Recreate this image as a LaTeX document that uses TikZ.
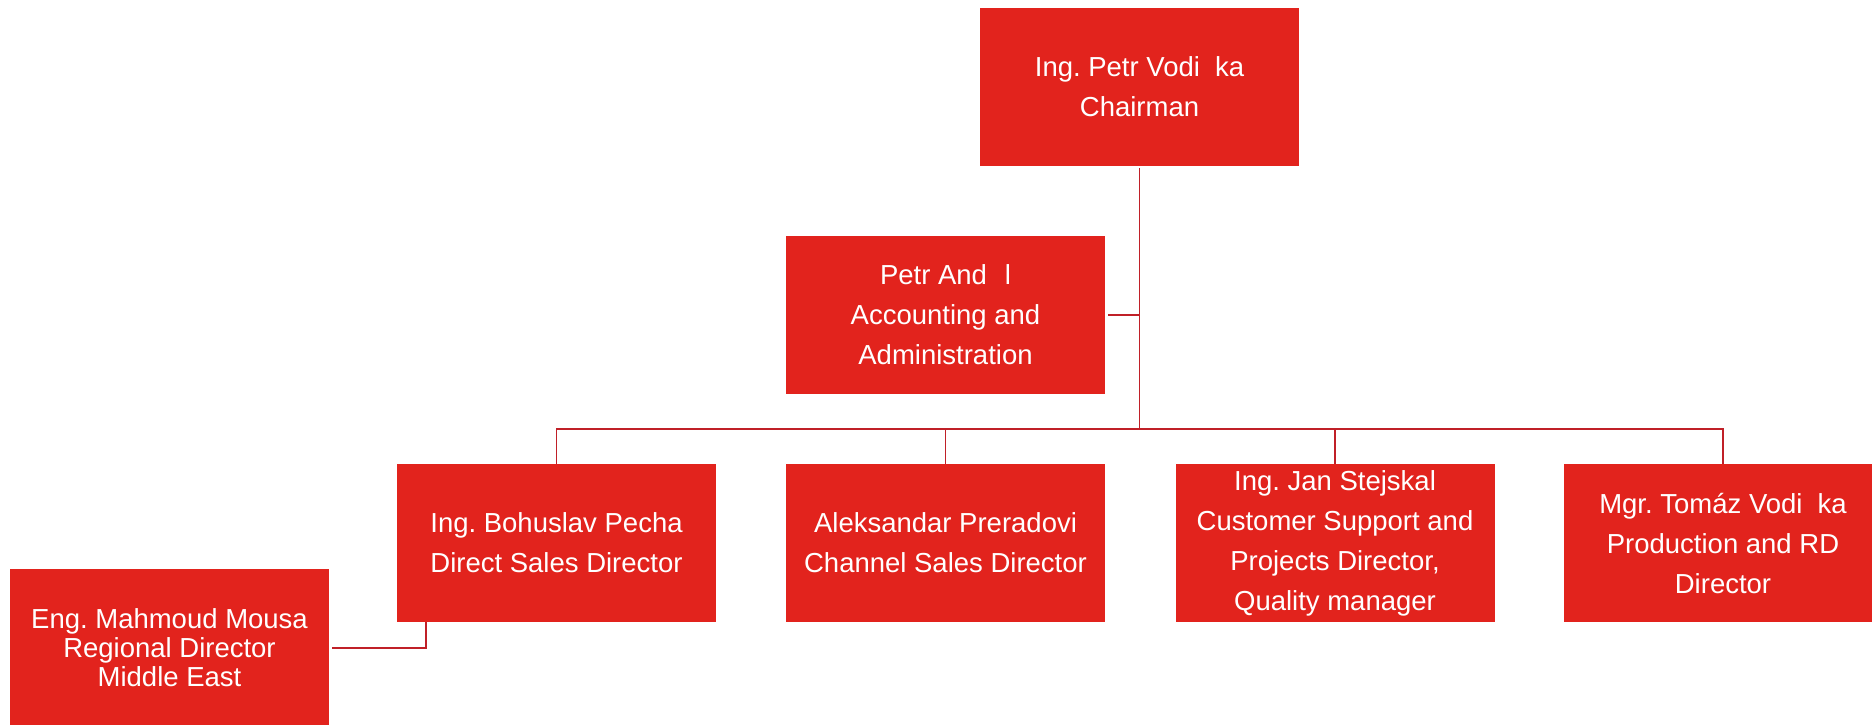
\documentclass[tikz,border=0pt]{standalone}
\usepackage{fontspec}
\setmainfont{Liberation Sans}
\usepackage{xcolor}
\definecolor{boxred}{RGB}{226,35,29}
\definecolor{linered}{RGB}{192,32,40}
\frenchspacing
\tikzset{>=latex}
\tikzset{
  person/.style={rectangle,fill=boxred,text=white,align=center,inner sep=0pt,
    minimum width=159.5pt,minimum height=79pt,font=\fontsize{13.75}{20}\selectfont},
  link/.style={draw=linered,line width=0.9pt}
}

\begin{document}
\begin{tikzpicture}[x=0.5pt,y=-0.5pt]
    \useasboundingbox (0,0) rectangle (1872,724);
    \node at (1139.5, 86.5) [person] (chair) {Ing. Petr Vodi\hspace{0.55em}ka \\ Chairman};
    \node at (945.5, 315) [person] (acct) {Petr And\hspace{0.65em}l \\ Accounting and \\ Administration};
    \node at (556.5, 543) [person] (bohus) {Ing. Bohuslav Pecha \\ Direct Sales Director};
    \node at (945.5, 543) [person] (chan) {Aleksandar Preradovi \\ Channel Sales Director};
    \node at (1335, 543) [person] (jan) {Ing. Jan Stejskal \\ Customer Support and \\ Projects Director, \\ Quality manager};
    \node at (1723, 543) [person] (mgr) {Mgr. Tomáz Vodi\hspace{0.55em}ka \\ Production and RD \\ Director};
    \node at (169.5, 648) [person,font=\fontsize{13.75}{14.5}\selectfont] (mahm) {Eng. Mahmoud Mousa \\ Regional Director \\ Middle East};
    \coordinate (bus) at (1139.5, 429);
    \draw [link,shorten <=1pt] (chair.south) -- (bus);
    \draw [link,shorten <=1.5pt] (acct.east) -- (acct.east -| bus);
    \draw [link] (bohus.north) |- (bus) -| (mgr.north);
    \draw [link] (chan.north) -- (chan.north |- bus);
    \draw [link] (jan.north) -- (jan.north |- bus);
    \draw [link,shorten <=1.5pt] (mahm.east) -| ([xshift=14.5pt]bohus.south west);
\end{tikzpicture}
\end{document}
